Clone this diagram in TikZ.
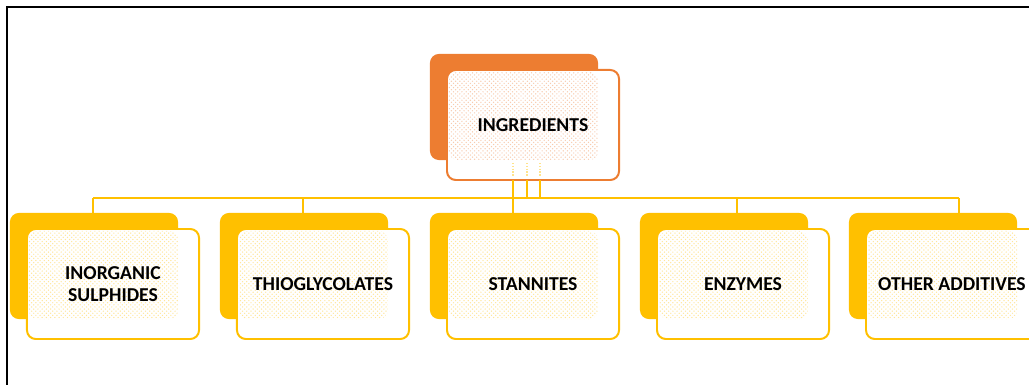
\documentclass[tikz,border=0pt]{standalone}
\usepackage{fontspec}
\setmainfont{Carlito}
\usetikzlibrary{patterns}
\definecolor{ingorange}{HTML}{ED7D31}
\definecolor{ingyellow}{HTML}{FFC000}
\begin{document}
\begin{tikzpicture}[x=0.025cm,y=-0.025cm,
    backbox/.style={fill=#1,rounded corners=0.22cm,minimum width=4.2cm,minimum height=2.65cm,inner sep=0pt,outer sep=0pt},
    frontbox/.style={draw=#1,fill=white,line width=1.4pt,rounded corners=0.22cm,
      minimum width=4.3cm,minimum height=2.75cm,inner sep=0pt,outer sep=0pt,
      align=center,font=\fontsize{14}{15.6}\selectfont\bfseries,
      path picture={\fill[pattern=crosshatch dots,pattern color=#1!40,rounded corners=0.22cm]
        ([shift={(0.05cm,-0.05cm)}]path picture bounding box.north west) rectangle ++(3.725cm,-2.2cm);}},
    link/.style={ingyellow,line width=1.4pt}]
  \useasboundingbox (0,0) rectangle (1029,385);

  % frame
  \draw[line width=1.8pt] (7,385) -- (7,7) -- (1029,7);

  % top
  \node[backbox=ingorange] (ingrback) at (514,107) {};
  \coordinate (bus1) at (93,198);
  \coordinate (bus2) at (303,198);
  \coordinate (bus3) at (513,198);
  \coordinate (bus4) at (737,198);
  \coordinate (bus5) at (959,198);
  \coordinate (tap2) at (527,198);
  \coordinate (tap3) at (540,198);

  % lower boxes
  \node[backbox=ingyellow] (sulphback) at (94,266) {};
  \node[backbox=ingyellow] (thioback) at (304,266) {};
  \node[backbox=ingyellow] (stanback) at (514,266) {};
  \node[backbox=ingyellow] (enzback) at (724,266) {};
  \node[backbox=ingyellow] (otherback) at (933,266) {};

  \node[frontbox=ingorange] (ingr) at (533,125) {INGREDIENTS};

  % connectors
  \draw[link] (bus1) -- (bus5);
  \draw[link] (bus3 |- ingr.south) -- (bus3 |- stanback.north);
  \draw[link] (tap2 |- ingr.south) -- (tap2);
  \draw[link] (tap3 |- ingr.south) -- (tap3);
  \draw[link] (bus1) -- (bus1 |- sulphback.north);
  \draw[link] (bus2) -- (bus2 |- thioback.north);
  \draw[link] (bus4) -- (bus4 |- enzback.north);
  \draw[link] (bus5) -- (bus5 |- otherback.north);
  \draw[ingyellow!45,densely dotted,line width=1pt] (513,163) -- (513,177);
  \draw[ingyellow!45,densely dotted,line width=1pt] (527,163) -- (527,177);
  \draw[ingyellow!45,densely dotted,line width=1pt] (540,163) -- (540,177);

  \node[frontbox=ingyellow] (sulph) at (113,284) {INORGANIC\\SULPHIDES};
  \node[frontbox=ingyellow] (thio) at (323,284) {THIOGLYCOLATES};
  \node[frontbox=ingyellow] (stan) at (533,284) {STANNITES};
  \node[frontbox=ingyellow] (enz) at (743,284) {ENZYMES};
  \node[frontbox=ingyellow] (other) at (952,284) {OTHER ADDITIVES};
\end{tikzpicture}
\end{document}
